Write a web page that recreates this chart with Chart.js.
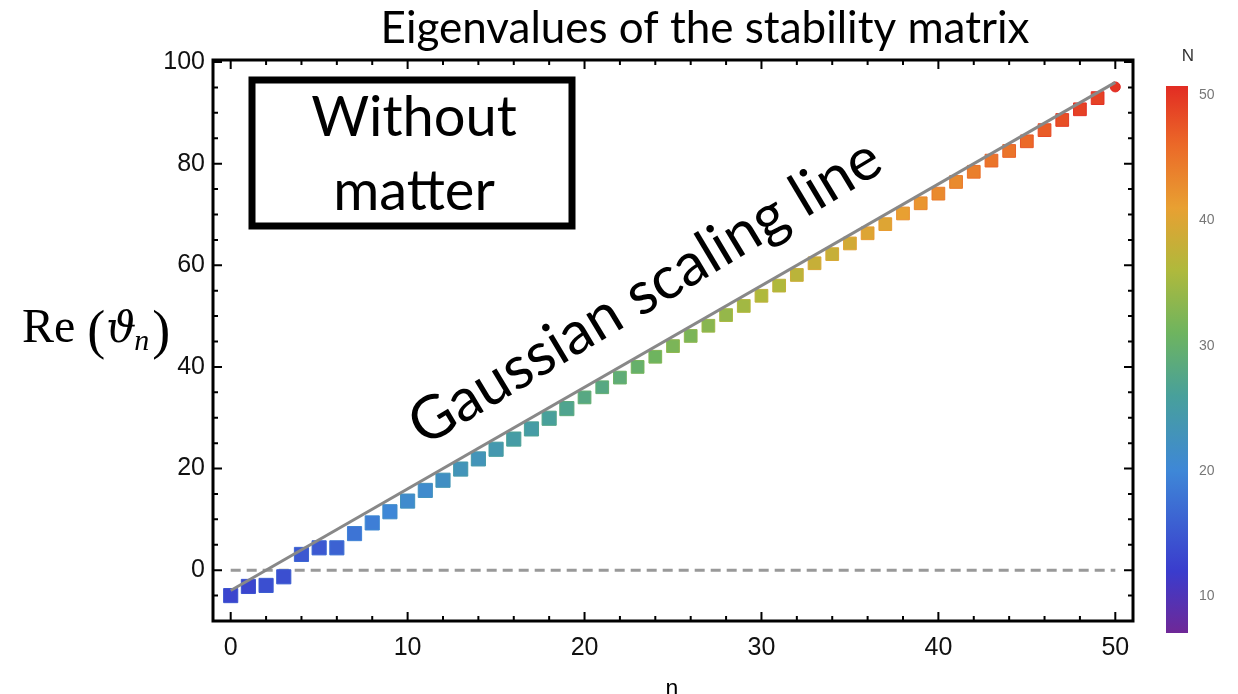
<!DOCTYPE html>
<html>
<head>
<meta charset="utf-8">
<title>Eigenvalues of the stability matrix</title>
<script src="https://cdn.jsdelivr.net/npm/chart.js@4.4.1/dist/chart.umd.min.js"></script>
<style>
  html, body { margin: 0; padding: 0; background: #ffffff; }
  #wrap { width: 1238px; height: 694px; }
</style>
</head>
<body>
<div id="wrap"><canvas id="eigenChart" width="1238" height="694"></canvas></div>
<script>
// Data
const nValues = [0, 1, 2, 3, 4, 5, 6, 7, 8, 9, 10, 11, 12, 13, 14, 15, 16, 17, 18, 19, 20,
    21, 22, 23, 24, 25, 26, 27, 28, 29, 30, 31, 32, 33, 34, 35, 36, 37, 38, 39, 40,
    41, 42, 43, 44, 45, 46, 47, 48, 49, 50];
const reTheta = [-5.0, -3.2, -3.0, -1.3, 3.1, 4.4, 4.4, 7.2, 9.3, 11.5, 13.6,
    15.7, 17.7, 19.9, 21.9, 23.8, 25.8, 27.8, 29.9, 31.8, 34.0,
    36.0, 37.9, 40.0, 42.0, 44.1, 46.1, 48.1, 50.2, 52.0, 54.0,
    56.0, 58.1, 60.4, 62.2, 64.3, 66.3, 68.1, 70.2, 72.2, 74.1,
    76.4, 78.4, 80.6, 82.5, 84.4, 86.6, 88.6, 90.7, 92.9, 95.1];
// N value whose colour dominates each stacked marker
const markerN = [13, 13, 14, 14, 15, 15, 16, 18, 19, 20, 21,
    21, 22, 23, 23, 24, 25, 25, 26, 27, 28,
    28, 29, 30, 31, 32, 32, 33, 34, 35, 36,
    36, 37, 38, 38, 39, 40, 40, 41, 42, 43,
    43, 44, 45, 45, 46, 47, 48, 49, 49, 50];

const gaussN = [0, 50];
const gaussVal = [-4, 96];
const zeroN = [0, 50];
const zeroVal = [0, 0];

const xTicks = [0, 10, 20, 30, 40, 50];
const yTicks = [0, 20, 40, 60, 80, 100];
const cbTicks = [10, 20, 30, 40, 50];
const cbRange = [7.1, 50.7];

// colour map for N (purple -> blue -> teal -> green -> orange -> red)
const cmapStops = [
    [7, [112, 40, 150]],
    [12, [58, 60, 205]],
    [20, [62, 135, 215]],
    [26, [72, 160, 155]],
    [31, [110, 180, 95]],
    [36, [175, 185, 60]],
    [41, [232, 160, 50]],
    [46, [235, 105, 40]],
    [51, [225, 40, 35]]
];

function cmap(N) {
    if (N <= cmapStops[0][0]) return 'rgb(' + cmapStops[0][1].join(',') + ')';
    for (let i = 1; i < cmapStops.length; i++) {
        const a = cmapStops[i - 1], b = cmapStops[i];
        if (N <= b[0]) {
            const t = (N - a[0]) / (b[0] - a[0]);
            const c = a[1].map((v, k) => Math.round(v + (b[1][k] - v) * t));
            return 'rgb(' + c.join(',') + ')';
        }
    }
    return 'rgb(' + cmapStops[cmapStops.length - 1][1].join(',') + ')';
}

const pointData = nValues.map((n, i) => ({ x: n, y: reTheta[i] }));
const gaussData = gaussN.map((n, i) => ({ x: n, y: gaussVal[i] }));
const zeroData = zeroN.map((n, i) => ({ x: n, y: zeroVal[i] }));

// Frame, inward ticks, annotations and colour bar
const decorPlugin = {
    id: 'decor',
    afterDraw(chart) {
        const ctx = chart.ctx;
        const a = chart.chartArea;
        const xs = chart.scales.x, ys = chart.scales.y;
        ctx.save();

        // frame
        ctx.strokeStyle = '#000';
        ctx.lineWidth = 3;
        ctx.strokeRect(a.left, a.top, a.right - a.left, a.bottom - a.top);

        // x ticks (top + bottom)
        ctx.lineWidth = 2;
        for (let v = 0; v <= 50; v += 2) {
            const px = xs.getPixelForValue(v);
            const len = v % 10 === 0 ? 9 : 5;
            ctx.beginPath();
            ctx.moveTo(px, a.bottom); ctx.lineTo(px, a.bottom - len);
            ctx.moveTo(px, a.top); ctx.lineTo(px, a.top + len);
            ctx.stroke();
        }
        // y ticks (left + right)
        for (let v = -5; v <= 100; v += 5) {
            const py = ys.getPixelForValue(v);
            const len = v % 20 === 0 ? 9 : 5;
            ctx.beginPath();
            ctx.moveTo(a.left, py); ctx.lineTo(a.left + len, py);
            ctx.moveTo(a.right, py); ctx.lineTo(a.right - len, py);
            ctx.stroke();
        }

        // title
        ctx.fillStyle = '#000';
        ctx.textAlign = 'center';
        ctx.textBaseline = 'middle';
        ctx.font = '44px Lato';
        ctx.fillText('Eigenvalues of the stability matrix', 705, 29);

        // x axis title
        ctx.textBaseline = 'top';
        ctx.font = '23px "Liberation Sans"';
        ctx.fillText('n', 672, 678);

        // y axis title  Re(ϑ_n)
        ctx.textAlign = 'left';
        ctx.textBaseline = 'alphabetic';
        let x = 22;
        const base = 342;
        ctx.font = '48px "Liberation Serif"';
        ctx.fillText('Re', x, base);
        x += ctx.measureText('Re').width + 12;
        ctx.font = '54px "Liberation Serif"';
        ctx.fillText('(', x, base + 6);
        x += ctx.measureText('(').width + 1;
        ctx.font = 'italic 42px "DejaVu Serif"';
        ctx.fillText('\u03D1', x, base);
        x += ctx.measureText('\u03D1').width - 2;
        ctx.font = 'italic 30px "Liberation Serif"';
        ctx.fillText('n', x, base + 8);
        x += ctx.measureText('n').width + 3;
        ctx.font = '54px "Liberation Serif"';
        ctx.fillText(')', x, base + 6);

        // "Without matter" box
        ctx.lineWidth = 7;
        ctx.strokeRect(252, 80, 320, 146);
        ctx.textAlign = 'center';
        ctx.textBaseline = 'middle';
        ctx.font = '56px Lato';
        ctx.fillText('Without', 414, 118);
        ctx.fillText('matter', 414, 192);

        // rotated annotation
        ctx.save();
        ctx.translate(645, 292);
        ctx.rotate(-31 * Math.PI / 180);
        ctx.font = '60px Lato';
        ctx.fillText('Gaussian scaling line', 0, 0);
        ctx.restore();

        // colour bar
        const cbL = 1166, cbR = 1188, cbT = 86, cbB = 633;
        const grad = ctx.createLinearGradient(0, cbB, 0, cbT);
        cmapStops.forEach(s => {
            const t = (s[0] - cbRange[0]) / (cbRange[1] - cbRange[0]);
            if (t >= 0 && t <= 1) grad.addColorStop(t, 'rgb(' + s[1].join(',') + ')');
        });
        grad.addColorStop(0, cmap(cbRange[0]));
        grad.addColorStop(1, cmap(cbRange[1]));
        ctx.fillStyle = grad;
        ctx.fillRect(cbL, cbT, cbR - cbL, cbB - cbT);

        ctx.font = '14px "Liberation Sans"';
        ctx.fillStyle = '#777';
        ctx.textAlign = 'left';
        cbTicks.forEach(v => {
            const py = cbB - (v - cbRange[0]) / (cbRange[1] - cbRange[0]) * (cbB - cbT);
            ctx.fillText(String(v), 1199, py);
        });
        ctx.fillStyle = '#333';
        ctx.font = '17px "Liberation Sans"';
        ctx.textAlign = 'center';
        ctx.fillText('N', 1188, 56);

        ctx.restore();
    }
};

const chart = new Chart(document.getElementById('eigenChart').getContext('2d'), {
    type: 'scatter',
    data: {
        datasets: [
            {
                label: 'Gaussian scaling line',
                data: gaussData,
                showLine: true,
                borderColor: '#888888',
                borderWidth: 3,
                pointRadius: 0,
                order: 0
            },
            {
                label: 'Re(theta_n)',
                data: pointData,
                pointStyle: ctx => ctx.dataIndex === nValues.length - 1 ? 'circle' : 'rect',
                pointRadius: ctx => ctx.dataIndex === nValues.length - 1 ? 5 : (ctx.dataIndex < 20 ? 10 : 9),
                backgroundColor: ctx => cmap(markerN[ctx.dataIndex]),
                borderColor: ctx => cmap(markerN[ctx.dataIndex] + 1.5),
                borderWidth: 1,
                order: 1
            },
            {
                label: 'zero',
                data: zeroData,
                showLine: true,
                borderColor: '#999999',
                borderWidth: 3,
                borderDash: [10, 6],
                pointRadius: 0,
                order: 2
            }
        ]
    },
    options: {
        responsive: false,
        animation: false,
        layout: { padding: { left: 0, right: 105, top: 60, bottom: 0 } },
        plugins: {
            legend: { display: false },
            tooltip: { enabled: false },
            title: { display: false }
        },
        scales: {
            x: {
                type: 'linear',
                min: -1,
                max: 51,
                grid: { display: false, drawTicks: false },
                border: { display: false },
                afterBuildTicks: scale => { scale.ticks = xTicks.map(v => ({ value: v })); },
                afterFit: scale => { scale.height = 73; },
                ticks: {
                    padding: 12,
                    maxRotation: 0,
                    color: '#111',
                    font: { family: 'Liberation Sans', size: 25 }
                }
            },
            y: {
                type: 'linear',
                min: -10,
                max: 100.4,
                grid: { display: false, drawTicks: false },
                border: { display: false },
                afterBuildTicks: scale => { scale.ticks = yTicks.map(v => ({ value: v })); },
                afterFit: scale => { scale.width = 213; },
                ticks: {
                    padding: 8,
                    color: '#111',
                    font: { family: 'Liberation Sans', size: 25 }
                }
            }
        }
    },
    plugins: [decorPlugin]
});
</script>
</body>
</html>
